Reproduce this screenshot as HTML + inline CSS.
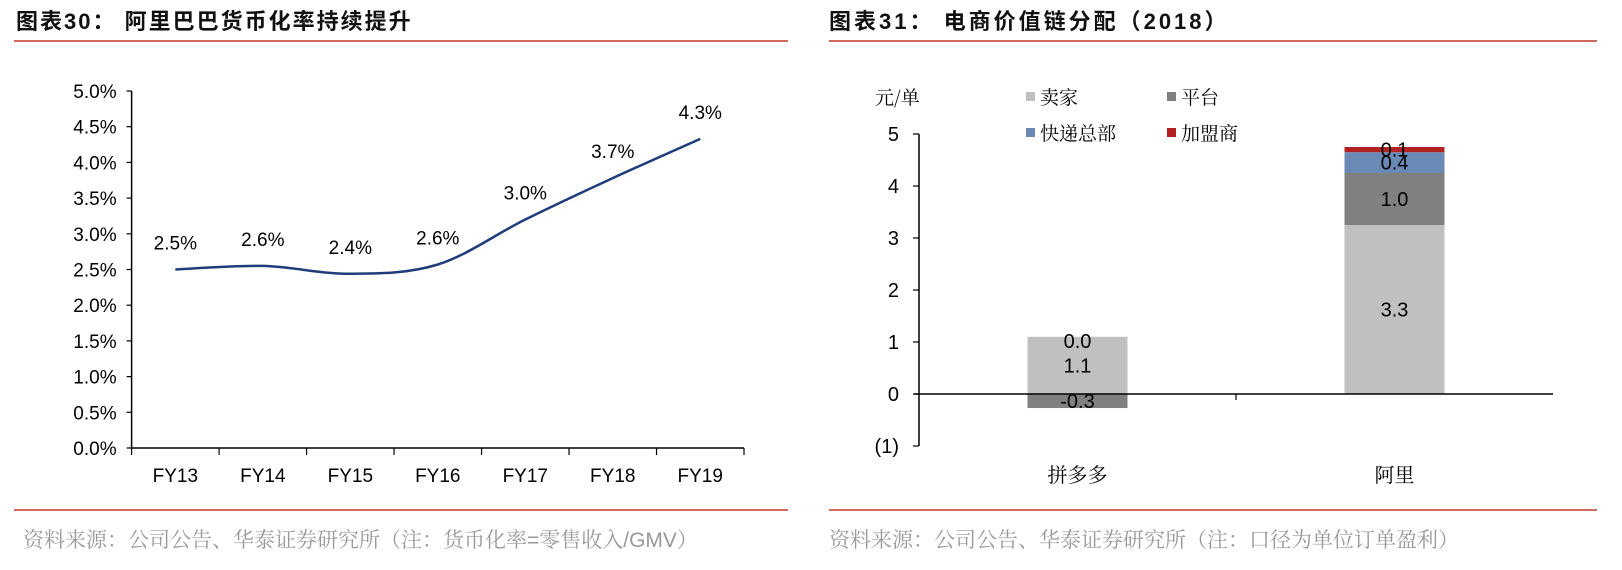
<!DOCTYPE html>
<html><head><meta charset="utf-8"><style>
body{margin:0;width:1622px;height:570px;background:#fff;overflow:hidden;font-family:"Liberation Sans","Noto Sans CJK SC",sans-serif;}
svg{position:absolute;left:0;top:0}
</style></head><body>
<svg width="1622" height="570" id="fig">
<g>
<text x="16" y="29" font-size="22" font-weight="bold" letter-spacing="2" fill="#111" font-family="Liberation Sans,Noto Sans CJK SC,sans-serif">图表30：  阿里巴巴货币化率持续提升</text>
<line x1="14" y1="41" x2="788" y2="41" stroke="#c0392b" stroke-width="1.5"/>
</g>
<g>
<text x="829" y="29" font-size="22" font-weight="bold" letter-spacing="3" fill="#111" font-family="Liberation Sans,Noto Sans CJK SC,sans-serif">图表31：  电商价值链分配（2018）</text>
<line x1="829" y1="41" x2="1597" y2="41" stroke="#c0392b" stroke-width="1.5"/>
</g>
<line x1="14" y1="510" x2="788" y2="510" stroke="#c0392b" stroke-width="1.5"/>
<line x1="829" y1="510" x2="1597" y2="510" stroke="#c0392b" stroke-width="1.5"/>
<text x="23" y="547" font-size="21" fill="#999" font-family="Liberation Sans,Noto Serif CJK SC,sans-serif">资料来源：公司公告、华泰证券研究所（注：货币化率=零售收入/GMV）</text>
<text x="829" y="547" font-size="21" fill="#999" font-family="Liberation Sans,Noto Serif CJK SC,sans-serif">资料来源：公司公告、华泰证券研究所（注：口径为单位订单盈利）</text>
<g id="left"></g>
<g id="right"></g>
</svg>
<script>
const NS="http://www.w3.org/2000/svg";
function mk(parent,tag,attrs,text){const e=document.createElementNS(NS,tag);for(const k in attrs)e.setAttribute(k,attrs[k]);if(text!==undefined)e.textContent=text;parent.appendChild(e);return e;}

// ---- Left chart data ----
const years=["FY13","FY14","FY15","FY16","FY17","FY18","FY19"];
const rates=[2.50,2.55,2.44,2.57,3.20,3.78,4.33];
const rateLabels=["2.5%","2.6%","2.4%","2.6%","3.0%","3.7%","4.3%"];
const yTicksL=[0,0.5,1,1.5,2,2.5,3,3.5,4,4.5,5];

// ---- Right chart data ----
const cats=["拼多多","阿里"];
const seriesNames=["卖家","平台","快递总部","加盟商"];
const seller=[1.1,3.25];
const platform=[-0.27,1.0];
const express=[0.0,0.4];
const franchise=[0.0,0.1];
const barLabels=[["1.1","-0.3","0.0",""],["3.3","1.0","0.4","0.1"]];
const yTicksR=[-1,0,1,2,3,4,5];
const yTickLabelsR=["(1)","0","1","2","3","4","5"];

// Left axes
const L=document.getElementById('left');
const lx0=131.6,lx1=744,ly0=448,ly1=91;
const lxBand=(lx1-lx0)/years.length;
const lx=i=>lx0+lxBand*(i+0.5);
const ly=v=>ly0-(v/5)*(ly0-ly1);
let e=mk(L,'line',{x1:lx0,y1:ly1,x2:lx0,y2:ly0,stroke:'#000','stroke-width':1.5});


e=mk(L,'line',{x1:lx0,y1:ly0,x2:lx1,y2:ly0,stroke:'#000','stroke-width':1.5});


yTicksL.forEach(t=>{
 const y=ly(t);
 let k=mk(L,'line',{x1:lx0-5,y1:y,x2:lx0,y2:y,stroke:'#000','stroke-width':1.2});
 
 
 let tx=mk(L,'text',{x:lx0-15,y:y+7,'text-anchor':'end','font-size':19,fill:'#000'},t.toFixed(1)+'%');
 
 
});
for(let i=0;i<=years.length;i++){
 const x=lx0+lxBand*i;
 let k=mk(L,'line',{x1:x,y1:ly0,x2:x,y2:ly0+7,stroke:'#000','stroke-width':1.2});
 
 
}
years.forEach((c,i)=>{
 let tx=mk(L,'text',{x:lx(i),y:482,'text-anchor':'middle','font-size':19,fill:'#000'},c);
 
 
});
const pts=rates.map((v,i)=>[lx(i),ly(v)]);
let d='M'+pts[0][0]+','+pts[0][1];
for(let i=0;i<pts.length-1;i++){
 const p0=pts[Math.max(0,i-1)],p1=pts[i],p2=pts[i+1],p3=pts[Math.min(pts.length-1,i+2)];
 const c1=[p1[0]+(p2[0]-p0[0])/6,p1[1]+(p2[1]-p0[1])/6];
 const c2=[p2[0]-(p3[0]-p1[0])/6,p2[1]-(p3[1]-p1[1])/6];
 d+=` C${c1[0]},${c1[1]} ${c2[0]},${c2[1]} ${p2[0]},${p2[1]}`;
}
e=mk(L,'path',{d:d,fill:'none',stroke:'#1f3d7a','stroke-width':2.5});


rates.forEach((v,i)=>{
 let tx=mk(L,'text',{x:lx(i),y:ly(v)-20,'text-anchor':'middle','font-size':19,fill:'#000'},rateLabels[i]);
 
 
});

// Right axes
const R=document.getElementById('right');
const rx0=919,rx1=1553,ry0=394,unit=52;
const rBand=(rx1-rx0)/cats.length;
const rx=i=>rx0+rBand*(i+0.5);
const ry=v=>ry0-v*unit;
const barW=100;
const colors=['#c0c0c0','#808080','#6a8ab5','#b22222'];
const series=[seller,platform,express,franchise];
cats.forEach((c,i)=>{
 let pos=0,neg=0;
 series.forEach((s,j)=>{
  const v=s[i];
  let y0,y1;
  if(v>=0){y0=pos;y1=pos+v;pos=y1;}else{y0=neg;y1=neg+v;neg=y1;}
  if(v!==0){
   let r=mk(R,'rect',{x:rx(i)-barW/2,y:Math.min(ry(y0),ry(y1)),width:barW,height:Math.abs(ry(y1)-ry(y0)),fill:colors[j]});
   
   
  }
 });
});
e=mk(R,'line',{x1:rx0,y1:ry(-1),x2:rx0,y2:ry(5),stroke:'#000','stroke-width':1.5});


e=mk(R,'line',{x1:rx0-5,y1:ry0,x2:rx1,y2:ry0,stroke:'#000','stroke-width':1.5});


e=mk(R,'line',{x1:rx0+rBand,y1:ry0,x2:rx0+rBand,y2:ry0+6,stroke:'#000','stroke-width':1.2});


yTicksR.forEach((t,i)=>{
 const y=ry(t);
 let k=mk(R,'line',{x1:rx0-6,y1:y,x2:rx0,y2:y,stroke:'#000','stroke-width':1.2});
 
 
 let tx=mk(R,'text',{x:rx0-20,y:y+7,'text-anchor':'end','font-size':20,fill:'#000'},yTickLabelsR[i]);
 
 
});
cats.forEach((c,i)=>{
 let tx=mk(R,'text',{x:rx(i),y:482,'text-anchor':'middle','font-size':20,fill:'#000','font-family':'Noto Serif CJK SC,serif'},c);
 
 
});
cats.forEach((c,i)=>{
 let pos=0,neg=0;
 series.forEach((s,j)=>{
  const v=s[i];const lab=barLabels[i][j];
  let y0,y1;
  if(v>=0){y0=pos;y1=pos+v;pos=y1;}else{y0=neg;y1=neg+v;neg=y1;}
  if(!lab)return;
  let cy=ry((y0+y1)/2);
  if(i===0&&j===2)cy=ry(pos)+4;
  let tx=mk(R,'text',{x:rx(i),y:cy+7,'text-anchor':'middle','font-size':20,fill:'#000'},lab);
  
  
 });
});
e=mk(R,'text',{x:875,y:104,'font-size':19,fill:'#000','font-family':'Noto Serif CJK SC,serif'},'元/单');


const legPos=[[1026,97],[1167,97],[1026,133],[1167,133]];
seriesNames.forEach((n,j)=>{
 const g=mk(R,'g',{});
 
 
 mk(g,'rect',{x:legPos[j][0],y:legPos[j][1]-5,width:9,height:9,fill:colors[j]});
 mk(g,'text',{x:legPos[j][0]+14,y:legPos[j][1]+7,'font-size':19,fill:'#000','font-family':'Noto Serif CJK SC,serif'},n);
});
</script>
</body></html>
